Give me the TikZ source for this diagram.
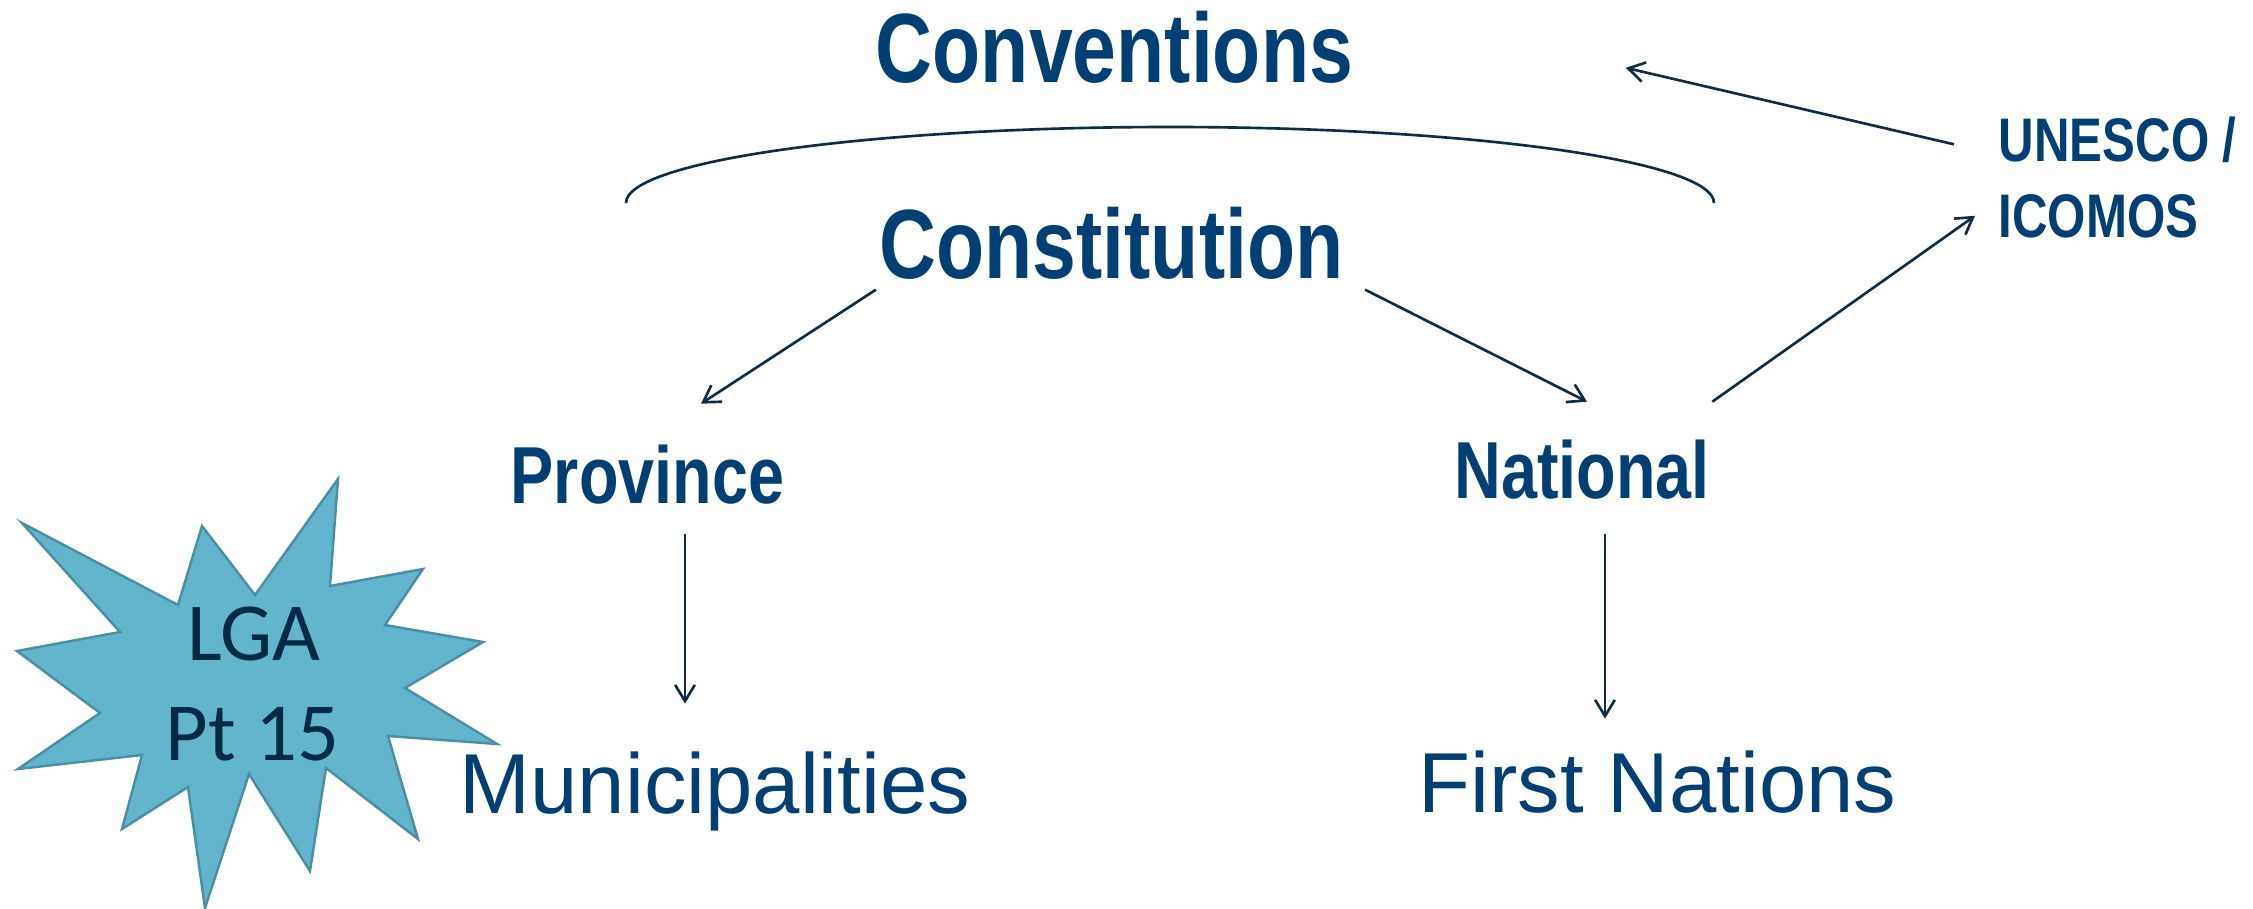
\documentclass[tikz,border=0pt]{standalone}
\usepackage{fontspec}
\setmainfont{Liberation Sans}
\newfontfamily\condfont{Liberation Sans}[FakeStretch=0.8]
\newfontfamily\calfont{Carlito}
\usetikzlibrary{arrows.meta}
\definecolor{txtblue}{HTML}{003F73}
\definecolor{arrowc}{HTML}{0E2B47}
\definecolor{starfill}{HTML}{63B5CE}
\definecolor{starline}{HTML}{4B8FA5}
\definecolor{startxt}{HTML}{002A45}
\tikzset{
  bigbold/.style={inner sep=0pt, anchor=base, text=txtblue, font=\condfont\bfseries\fontsize{28}{34}\selectfont},
  midbold/.style={inner sep=0pt, anchor=base, text=txtblue, font=\condfont\bfseries\fontsize{23}{28}\selectfont},
  smallbold/.style={inner sep=0pt, anchor=base west, text=txtblue, font=\condfont\bfseries\fontsize{17.5}{21}\selectfont},
  plain/.style={inner sep=0pt, anchor=base, text=txtblue, font=\fontsize{24.2}{29}\selectfont},
  startext/.style={inner sep=0pt, anchor=base, text=startxt, font=\calfont\fontsize{23.5}{28}\selectfont},
  conn/.style={draw=arrowc, line width=0.75pt, -{Straight Barb[length=4.6pt,width=5.6pt,line width=0.75pt]}},
  curly/.style={draw=arrowc, line width=0.75pt},
  burst/.style={fill=starfill, draw=starline, line width=0.7pt, line join=miter}
}
\begin{document}
\begin{tikzpicture}[x=0.01cm, y=-0.01cm]
\useasboundingbox (0,0) rectangle (2253,909);
\fill[white] (0,0) rectangle (2253,909);

% star burst
\path[burst] (22,523) -- (178,605) -- (202,526) -- (255,595) -- (338,479) -- (330,586)
  -- (423,569) -- (385,625) -- (483,642) -- (405,688) -- (497,744) -- (388,736)
  -- (418,839) -- (326,768) -- (310,871) -- (249,774) -- (205,908) -- (188,787)
  -- (122,829) -- (142,755) -- (18,769) -- (100,713) -- (17,651) -- (120,632) -- cycle;
\node[startext] (lga) at (254,660) {LGA};
\node[startext] (pt) at (252.5,760) {Pt 15};

% texts
\node[bigbold] (conv) at (1114.5,83) {Conventions};
\node[bigbold] (cons) at (1111.5,278) {Constitution};
\node[midbold] (prov) at (647.5,503) {Province};
\node[midbold] (nat) at (1582,498) {National};
\node[smallbold] (unesco) at (1998,161) {UNESCO /};
\node[smallbold] (icomos) at (1998,237) {ICOMOS};
\node[plain] (muni) at (715,813) {Municipalities};
\node[plain] (fn) at (1657.5,812) {First Nations};

% arc over Constitution
\draw[curly] (626,203) arc[start angle=180, end angle=360, x radius=544, y radius=76];

% connectors
\draw[conn] ([shift={(-3,10)}]cons.south west) -- ([shift={(53.5,-40)}]prov.north);
\draw[conn] ([shift={(21,10)}]cons.south east) -- ([shift={(5,-37)}]nat.north);
\draw[conn] ([shift={(2,-37)}]nat.north east) -- ([shift={(-23,0)}]icomos.west);
\draw[conn] ([shift={(-44,5)}]unesco.west) -- ([shift={(272,20)}]conv.east);
\draw[conn] ([shift={(37.5,30)}]prov.south) -- ([shift={(-30,-47)}]muni.north);
\draw[conn] ([shift={(23,35)}]nat.south) -- ([shift={(-52.5,-31)}]fn.north);
\end{tikzpicture}
\end{document}
